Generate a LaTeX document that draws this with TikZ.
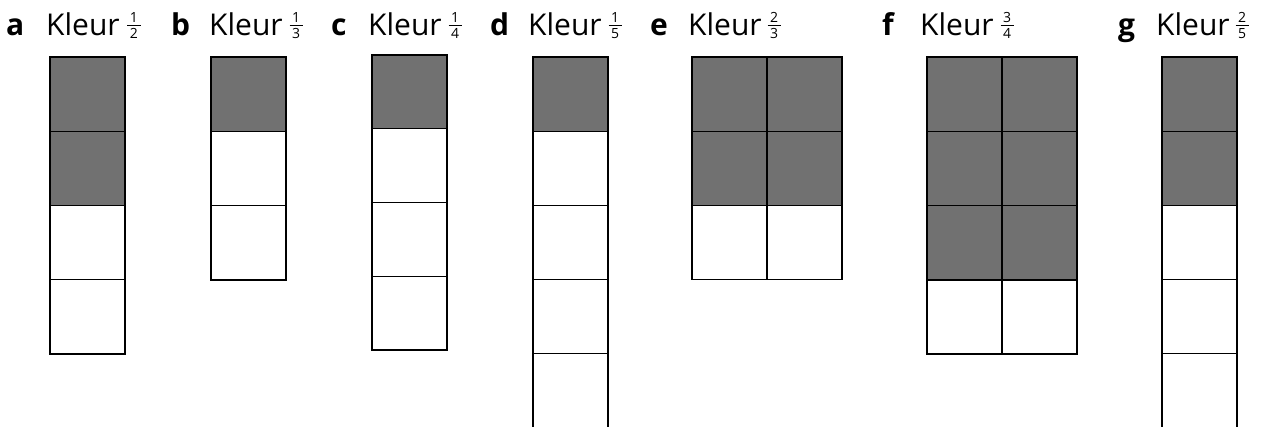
\documentclass[tikz,border=0pt]{standalone}
\usepackage{fontspec}
\setmainfont{Open Sans}
\definecolor{cellgray}{RGB}{113,113,113}
\setlength{\arrayrulewidth}{0.8pt}
\newcommand{\fracstack}[2]{\begin{tabular}[b]{@{\hspace{2.5pt}}c@{\hspace{2.5pt}}}#1\\[-2pt]\hline\rule{0pt}{12.5pt}#2\end{tabular}}
\tikzset{
  cellbox/.style={draw=black, line width=1.3pt, minimum width=75pt, minimum height=74.2pt, inner sep=0pt, outer sep=0pt, anchor=north west},
  dark/.style={cellbox, fill=cellgray},
  light/.style={cellbox, fill=white},
  letter/.style={font=\fontsize{30}{30}\selectfont\bfseries, anchor=base west, inner sep=0pt},
  word/.style={font=\fontsize{30}{30}\selectfont, anchor=base west, inner sep=0pt},
  fracnode/.style={font=\fontsize{14}{15}\selectfont, anchor=base, inner sep=0pt}
}
\begin{document}
\begin{tikzpicture}[x=1pt,y=-1pt]
\useasboundingbox (0,0) rectangle (1261,426);
\clip (0,0) rectangle (1261,426);
% labels: name/letterx/wordx/fracx/num/den
\foreach \n/\lx/\wx/\fx/\nu/\de in {a/6/46/134/1/2, b/171/209/296/1/3, c/331/368/455/1/4, d/490/528/615/1/5, e/650/688/774/2/3, f/882/920/1007/3/4, g/1118/1156/1242/2/5}{
  \node[letter] (L\n) at (\lx,35) {\n};
  \node[word] (W\n) at (\wx,35) {Kleur};
  \node[fracnode] (F\n) at (\fx,38) {\fracstack{\nu}{\de}};
}
% columns: name/x/top/cell height/number dark/number total
\foreach \n/\x/\t/\h/\k/\m in {a/50/57/74.25/2/4, b/211/57/74.3/1/3, c/372/55/73.75/1/4, d/533/57/74.2/1/5, g/1162/57/74.2/2/5}{
  \foreach \i in {1,...,\m}{
    \pgfmathsetmacro{\yy}{\t+(\i-1)*\h}
    \ifnum\i>\k
      \node[light, minimum height=\h pt] (\n\i) at (\x,\yy) {};
    \else
      \node[dark, minimum height=\h pt] (\n\i) at (\x,\yy) {};
    \fi
  }
}
% two-wide columns
\foreach \n/\x/\k/\m in {e/692/2/3, f/927/3/4}{
  \foreach \i in {1,...,\m}{
    \pgfmathsetmacro{\yy}{57+(\i-1)*74.3}
    \foreach \j/\dx in {l/0, r/75}{
      \ifnum\i>\k
        \node[light] (\n\i\j) at (\x+\dx,\yy) {};
      \else
        \node[dark] (\n\i\j) at (\x+\dx,\yy) {};
      \fi
    }
  }
}
\end{tikzpicture}
\end{document}
